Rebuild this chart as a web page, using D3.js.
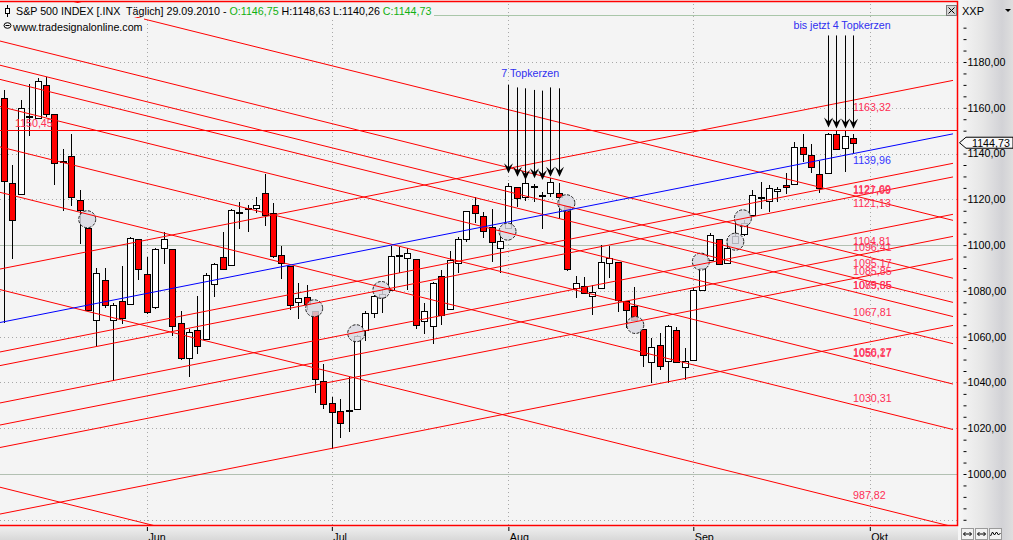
<!DOCTYPE html>
<html><head><meta charset="utf-8">
<script src="https://cdn.jsdelivr.net/npm/d3@7"></script>
<style>
html,body{margin:0;padding:0;background:#f4f4f4;overflow:hidden;}
svg{display:block;font-family:"Liberation Sans",Arial,sans-serif;}
</style></head><body>
<svg id="chart" width="1013" height="540"></svg>
<script>
// ---------------- DATA ----------------
const dates = ["06.05","07.05","10.05","11.05","12.05","13.05","14.05","17.05","18.05","19.05","20.05","21.05","24.05","25.05","26.05","27.05","28.05",
"01.06","02.06","03.06","04.06","07.06","08.06","09.06","10.06","11.06","14.06","15.06","16.06","17.06","18.06","21.06","22.06","23.06","24.06","25.06","28.06","29.06","30.06",
"01.07","02.07","06.07","07.07","08.07","09.07","12.07","13.07","14.07","15.07","16.07","19.07","20.07","21.07","22.07","23.07","26.07","27.07","28.07","29.07","30.07",
"02.08","03.08","04.08","05.08","06.08","09.08","10.08","11.08","12.08","13.08","16.08","17.08","18.08","19.08","20.08","23.08","24.08","25.08","26.08","27.08","30.08","31.08",
"01.09","02.09","03.09","07.09","08.09","09.09","10.09","13.09","14.09","15.09","16.09","17.09","20.09","21.09","22.09","23.09","24.09","27.09","28.09","29.09"];
const open = [1164.38,1127.04,1122.27,1156.39,1155.43,1170.04,1157.19,1136.52,1138.78,1119.57,1107.34,1067.26,1084.78,1067.42,1075.51,1074.27,1102.59,
1087.30,1073.01,1098.82,1098.43,1065.84,1050.81,1062.75,1058.77,1082.65,1095.00,1091.21,1114.02,1115.98,1116.16,1122.79,1113.90,1095.57,1090.93,1075.10,1077.50,1071.10,1040.56,
1031.10,1027.65,1028.09,1028.54,1062.92,1070.50,1077.23,1080.65,1095.61,1094.46,1093.85,1066.85,1064.53,1086.67,1072.14,1092.17,1102.89,1117.36,1112.84,1108.07,1098.44,
1107.53,1125.34,1121.06,1125.78,1122.07,1122.80,1122.92,1116.89,1081.48,1082.22,1077.49,1081.16,1092.08,1092.44,1075.63,1073.36,1063.20,1048.98,1056.28,1049.27,1062.90,1046.88,
1049.72,1080.66,1093.61,1102.60,1092.36,1101.15,1104.57,1113.38,1121.16,1119.43,1123.89,1126.39,1126.57,1142.82,1139.49,1131.10,1131.69,1148.64,1142.31,1146.75];
const high = [1167.58,1135.13,1163.19,1170.48,1172.87,1173.57,1157.19,1141.88,1148.66,1124.27,1107.34,1090.16,1089.95,1074.75,1090.75,1103.52,1102.59,
1094.77,1098.56,1105.67,1098.43,1071.36,1063.15,1077.74,1087.85,1092.25,1105.91,1115.59,1118.74,1117.72,1121.01,1131.23,1118.50,1099.64,1090.93,1083.56,1082.60,1071.10,1048.08,
1033.58,1032.95,1042.50,1060.89,1071.25,1078.16,1080.78,1099.46,1099.08,1098.66,1093.85,1074.70,1083.94,1088.96,1097.50,1103.73,1115.01,1120.95,1114.66,1115.90,1106.44,
1127.30,1125.44,1128.75,1126.56,1123.06,1129.24,1127.16,1116.89,1086.72,1086.25,1082.62,1100.14,1099.77,1092.44,1075.63,1081.58,1063.20,1059.38,1061.45,1065.21,1064.40,1055.14,
1081.30,1090.10,1105.10,1102.60,1103.26,1110.27,1110.88,1123.87,1127.36,1126.46,1125.44,1131.47,1144.86,1148.59,1144.38,1136.77,1148.90,1149.92,1150.00,1148.63];
const low = [1065.79,1094.15,1122.27,1147.71,1155.43,1156.14,1126.14,1114.96,1117.20,1100.66,1071.58,1055.90,1072.70,1040.78,1065.59,1074.27,1084.78,
1069.89,1072.03,1091.81,1060.50,1049.86,1042.17,1052.25,1058.77,1077.12,1089.03,1091.21,1107.13,1105.87,1113.93,1108.24,1094.18,1085.31,1071.60,1067.89,1071.45,1035.18,1028.33,
1010.91,1015.93,1018.35,1028.54,1058.24,1068.10,1070.45,1080.65,1087.68,1080.53,1063.32,1061.11,1056.88,1065.25,1072.14,1087.88,1101.30,1109.78,1103.11,1092.82,1088.01,
1107.53,1116.76,1119.46,1118.81,1107.17,1120.91,1111.58,1088.55,1076.69,1079.00,1069.49,1081.16,1085.76,1070.66,1063.91,1067.08,1046.68,1039.83,1045.40,1039.70,1048.79,1040.88,
1049.72,1080.39,1093.61,1091.15,1092.36,1101.15,1103.92,1113.38,1115.58,1114.63,1118.88,1122.43,1126.57,1136.22,1131.58,1122.79,1131.69,1142.00,1132.09,1140.26];
const close = [1128.15,1110.88,1159.73,1155.79,1171.67,1157.44,1135.68,1136.94,1120.80,1115.05,1071.59,1087.69,1073.65,1074.03,1067.95,1103.06,1089.41,
1070.71,1098.38,1102.83,1064.88,1050.47,1062.00,1055.69,1086.84,1091.60,1089.63,1115.23,1114.61,1116.04,1117.51,1113.20,1095.31,1092.04,1073.69,1076.76,1074.57,1041.24,1030.71,
1027.37,1022.58,1028.06,1060.27,1070.25,1077.96,1078.75,1095.34,1095.17,1096.48,1064.88,1071.25,1083.48,1069.59,1093.67,1102.66,1115.01,1113.84,1106.13,1101.53,1101.60,
1125.86,1120.46,1127.24,1125.81,1121.64,1127.79,1121.06,1089.47,1083.61,1079.25,1079.38,1092.54,1094.16,1075.63,1071.69,1067.36,1051.87,1055.33,1047.22,1064.59,1048.92,1049.33,
1080.29,1090.10,1104.51,1091.84,1098.87,1104.18,1109.55,1121.90,1121.10,1125.07,1124.66,1125.59,1142.71,1139.78,1134.28,1124.83,1148.67,1142.16,1147.70,1144.73];

const monthLabels = ["Jun","Jul","Aug","Sep","Okt"];
const monthTickIndex = [17, 39, 60, 82, 103];

// trend lines: value at the last bar (index 101)
const risingLineValues = [1163.32, 1127.09, 1121.13, 1104.81, 1095.17, 1085.35, 1056.27];
const fallingLineValues = [1121.69, 1096.41, 1085.85, 1079.65, 1067.81, 1050.17, 1030.31, 987.82, 901.47];
const blueLineValue = 1139.96;
const horizontalLineValue = 1150.45;
const risingSlope = 0.727;    // points per bar
const fallingSlope = -0.914;  // points per bar
const lineAnchorIndex = 101;
const lineEndIndex = 112.9;
const hLabelIndex = 1.3;

// marked crossings
const circleIndex = [9.9, 36.9, 41.9, 44.9, 59.9, 66.9, 75.1, 82.9, 87.0, 87.9];
const circleValue = [1111.3, 1072.4, 1061.5, 1080.4, 1105.9, 1118.3, 1065.1, 1092.8, 1101.5, 1111.7];

// arrows "7 Topkerzen"
const arrowIdx7 = [60, 61, 62, 63, 64, 65, 66];
const arrowTop7 = [1170.0, 1168.9, 1168.5, 1167.8, 1167.5, 1168.9, 1168.5];
const arrowTip7 = [1131.4, 1129.9, 1128.4, 1129.2, 1128.4, 1129.9, 1129.9];
// arrows "bis jetzt 4 Topkerzen"
const arrowIdx4 = [98, 99, 100, 101];
const arrowTop4 = [1191.6, 1191.6, 1191.6, 1191.6];
const arrowTip4 = [1151.4, 1151.0, 1151.0, 1150.8];

const annotations = [
  {text: "7 Topkerzen", idx: 62.6, value: 1173.4},
  {text: "bis jetzt 4 Topkerzen", idx: 99.7, value: 1194.4}
];

// ---------------- CHART ----------------
const W = 1013, H = 540, plotR = 958, plotB = 526;
const svg = d3.select("#chart");
const x = d3.scaleLinear().domain([0, 101]).range([4, 853]);
const y = d3.scaleLinear().domain([1000, 1180]).range([474, 62]);
const de = d3.formatLocale({decimal: ",", thousands: ".", grouping: [3], currency: ["", ""]});
const fmt = de.format(".2f");
const RED = "#ff0000", LBL = "#ff2d55", BLUE = "#0000ff", TXTBLUE = "#3030f0";

const defs = svg.append("defs");
defs.append("clipPath").attr("id", "plotclip").append("rect")
  .attr("x", 0).attr("y", 2).attr("width", plotR - 1).attr("height", plotB - 2);
const ag = defs.append("linearGradient").attr("id", "axisGrad").attr("x1", 0).attr("x2", 1).attr("y1", 0).attr("y2", 0);
[["0%", "#f6f6f6"], ["45%", "#e6e6e6"], ["80%", "#d2d2d6"], ["100%", "#dedede"]].forEach(s => ag.append("stop").attr("offset", s[0]).attr("stop-color", s[1]));
const bg = defs.append("linearGradient").attr("id", "bottomGrad").attr("x1", 0).attr("x2", 0).attr("y1", 0).attr("y2", 1);
[["0%", "#eeeeee"], ["100%", "#d8d8d8"]].forEach(s => bg.append("stop").attr("offset", s[0]).attr("stop-color", s[1]));

svg.append("rect").attr("width", W).attr("height", H).attr("fill", "#f4f4f4");
svg.append("rect").attr("x", plotR).attr("y", 0).attr("width", W - plotR).attr("height", H).attr("fill", "url(#axisGrad)");
svg.append("rect").attr("x", 0).attr("y", plotB + 1).attr("width", plotR).attr("height", H - plotB - 1).attr("fill", "url(#bottomGrad)");

const plot = svg.append("g").attr("clip-path", "url(#plotclip)");

// grid
const gridVals = d3.range(980, 1200, 20);
plot.append("g").selectAll("line").data(gridVals).join("line")
  .attr("x1", 0).attr("x2", plotR)
  .attr("y1", d => Math.round(y(d)) + 0.5).attr("y2", d => Math.round(y(d)) + 0.5)
  .attr("stroke", d => d % 100 === 0 ? "#b2c0b2" : "#a8a8a8")
  .attr("stroke-dasharray", d => d % 100 === 0 ? null : "1,3")
  .attr("shape-rendering", "crispEdges");
plot.append("g").selectAll("line").data(monthTickIndex).join("line")
  .attr("x1", d => Math.round(x(d)) + 0.5).attr("x2", d => Math.round(x(d)) + 0.5)
  .attr("y1", 0).attr("y2", plotB)
  .attr("stroke", "#a8a8a8").attr("stroke-dasharray", "1,3")
  .attr("shape-rendering", "crispEdges");

// candles
const idx = d3.range(close.length);
const cg = plot.append("g").attr("shape-rendering", "crispEdges");
cg.selectAll("line").data(idx).join("line")
  .attr("x1", i => Math.round(x(i)) + 0.5).attr("x2", i => Math.round(x(i)) + 0.5)
  .attr("y1", i => y(high[i])).attr("y2", i => y(low[i]))
  .attr("stroke", "#000");
cg.selectAll("rect").data(idx).join("rect")
  .attr("x", i => Math.round(x(i)) - 2.5).attr("width", 6)
  .attr("y", i => Math.round(y(Math.max(open[i], close[i]))) + 0.5)
  .attr("height", i => Math.max(0.5, Math.round(Math.abs(y(open[i]) - y(close[i])))))
  .attr("fill", i => close[i] >= open[i] ? "#ffffff" : RED)
  .attr("stroke", "#000");

// circles (on top of candles, slightly translucent)
plot.append("g").selectAll("circle").data(circleIndex).join("circle")
  .attr("cx", d => x(d)).attr("cy", (d, i) => y(circleValue[i])).attr("r", 8.5)
  .attr("fill", "#d8d8e0").attr("fill-opacity", 0.82)
  .attr("stroke", "#222").attr("stroke-width", 1).attr("stroke-dasharray", "3,1.5");

// trend lines
const x0Idx = x.invert(0);
function seg(v, slope) {
  return [[x0Idx, v + slope * (x0Idx - lineAnchorIndex)], [lineEndIndex, v + slope * (lineEndIndex - lineAnchorIndex)]];
}
const lineGen = d3.line().x(d => x(d[0])).y(d => y(d[1]));
const tl = plot.append("g").attr("fill", "none");
tl.selectAll("path.up").data(risingLineValues).join("path").attr("class", "up")
  .attr("d", v => lineGen(seg(v, risingSlope))).attr("stroke", RED).attr("stroke-width", 1);
tl.selectAll("path.dn").data(fallingLineValues).join("path").attr("class", "dn")
  .attr("d", v => lineGen(seg(v, fallingSlope))).attr("stroke", RED).attr("stroke-width", 1);
tl.append("line").attr("x1", 0).attr("x2", plotR)
  .attr("y1", Math.round(y(horizontalLineValue)) + 0.5).attr("y2", Math.round(y(horizontalLineValue)) + 0.5)
  .attr("stroke", RED).attr("stroke-width", 1);
tl.append("path").attr("d", lineGen(seg(blueLineValue, risingSlope)))
  .attr("stroke", BLUE).attr("stroke-width", 1);

// line labels
const lab = plot.append("g").attr("font-size", "10.7px").attr("dominant-baseline", "central");
lab.selectAll("text.up").data(risingLineValues).join("text").attr("class", "up")
  .attr("x", x(lineAnchorIndex)).attr("y", v => y(v) + 6.5).attr("fill", LBL).text(v => fmt(v));
lab.selectAll("text.dn").data(fallingLineValues).join("text").attr("class", "dn")
  .attr("x", x(lineAnchorIndex)).attr("y", v => y(v) - 6.5).attr("fill", LBL).text(v => fmt(v));
lab.append("text").attr("x", x(lineAnchorIndex)).attr("y", y(blueLineValue) + 6.5).attr("fill", "#3434ff").text(fmt(blueLineValue));
lab.append("text").attr("x", x(hLabelIndex)).attr("y", y(horizontalLineValue) - 6.5).attr("fill", LBL).text(fmt(horizontalLineValue));

// arrows
function drawArrows(idxs, tops, tips) {
  const g = plot.append("g");
  idxs.forEach((d, i) => {
    const cx = Math.round(x(d)) + 0.5, t = y(tops[i]), p = y(tips[i]);
    g.append("line").attr("x1", cx).attr("x2", cx).attr("y1", t).attr("y2", p - 3).attr("stroke", "#000");
    g.append("path").attr("d", `M${cx},${p} L${cx - 4.5},${p - 10} L${cx},${p - 6} L${cx + 4.5},${p - 10} Z`).attr("fill", "#000");
  });
}
drawArrows(arrowIdx7, arrowTop7, arrowTip7);
drawArrows(arrowIdx4, arrowTop4, arrowTip4);
plot.append("g").selectAll("text").data(annotations).join("text")
  .attr("x", d => x(d.idx)).attr("y", d => y(d.value)).attr("text-anchor", "middle")
  .attr("font-size", "10.7px").attr("fill", TXTBLUE).text(d => d.text);

// header
const last = close.length - 1;
svg.append("line").attr("x1", 434).attr("x2", plotR).attr("y1", 15.5).attr("y2", 15.5).attr("stroke", "#a9c6a9");
svg.append("rect").attr("x", 0).attr("y", 3).attr("width", 434).attr("height", 14).attr("fill", "#f4f4f4");
svg.append("rect").attr("x", 0).attr("y", 18).attr("width", 144).attr("height", 15).attr("fill", "#f4f4f4");
svg.append("line").attr("x1", 7.5).attr("x2", 7.5).attr("y1", 5).attr("y2", 17).attr("stroke", "#000");
svg.append("rect").attr("x", 5.5).attr("y", 8.5).attr("width", 4).attr("height", 5).attr("fill", "#fff").attr("stroke", "#000");
const ht = svg.append("text").attr("x", 16).attr("y", 15).attr("font-size", "10.7px").style("white-space", "pre");
ht.append("tspan").attr("fill", "#000").text("S&P 500 INDEX [.INX  Täglich] 29.09.2010 - ");
ht.append("tspan").attr("fill", "#10b010").text("O:" + fmt(open[last]));
ht.append("tspan").attr("fill", "#000").text(" H:" + fmt(high[last]) + " L:" + fmt(low[last]) + " ");
ht.append("tspan").attr("fill", "#10b010").text("C:" + fmt(close[last]));
svg.append("ellipse").attr("cx", 7.5).attr("cy", 25.5).attr("rx", 3.5).attr("ry", 2.8).attr("fill", "none").attr("stroke", "#000");
svg.append("line").attr("x1", 5.5).attr("x2", 9.5).attr("y1", 25.5).attr("y2", 25.5).attr("stroke", "#000");
svg.append("text").attr("x", 13).attr("y", 31).attr("font-size", "10.7px").attr("fill", "#000").text("www.tradesignalonline.com");

// frame
svg.append("path").attr("d", `M0,1.5 H${plotR - 0.5} V${plotB - 0.5} H0`).attr("fill", "none").attr("stroke", RED).attr("stroke-width", 1.5);
// close button
svg.append("rect").attr("x", 946.5).attr("y", 5.5).attr("width", 10).attr("height", 10).attr("fill", "#d6d6d6").attr("stroke", "#7a7a7a");
svg.append("path").attr("d", "M948.5,7.5 L954.5,13.5 M954.5,7.5 L948.5,13.5").attr("stroke", "#000");

// right axis
const yAxis = d3.axisRight(y).tickValues(d3.range(980, 1196, 5)).tickSize(3).tickPadding(1)
  .tickFormat(d => (d % 20 === 0 && d >= 1000 && d <= 1180) ? fmt(d) : "");
const ya = svg.append("g").attr("transform", "translate(963.5,0)").call(yAxis);
ya.select(".domain").remove();
ya.selectAll("text").attr("font-size", "10.7px").attr("font-family", "Liberation Sans, Arial, sans-serif").attr("fill", "#000");
ya.selectAll("line").attr("stroke", "#000");
svg.append("text").attr("x", 962).attr("y", 15).attr("font-size", "11px").attr("fill", "#000").text("XXP");
svg.append("path").attr("d", "M1005,9 L1011,9 L1008,12 Z").attr("fill", "#000");

// current price marker
const py = y(close[last]);
svg.append("path").attr("d", `M959.5,${py} L966,${py - 5.5} L1013,${py - 5.5} L1013,${py + 5.5} L966,${py + 5.5} Z`)
  .attr("fill", "#f8f8f8").attr("stroke", "#000");
svg.append("text").attr("x", 972).attr("y", py).attr("dominant-baseline", "central").attr("font-size", "10.7px").attr("fill", "#000").text(fmt(close[last]));

// bottom axis
const xAxis = d3.axisBottom(x).tickValues(monthTickIndex).tickSize(4).tickPadding(2)
  .tickFormat((d, i) => monthLabels[i]);
const xa = svg.append("g").attr("transform", `translate(0,${plotB + 1})`).call(xAxis);
xa.select(".domain").remove();
xa.selectAll("text").attr("text-anchor", "start").attr("dx", "1").attr("font-size", "10.7px")
  .attr("font-family", "Liberation Sans, Arial, sans-serif").attr("fill", "#000");
xa.selectAll("line").attr("stroke", "#000");

// small buttons bottom-right
[961.5, 975.5, 989.5].forEach((bx, k) => {
  svg.append("rect").attr("x", bx).attr("y", 528.5).attr("width", 12).attr("height", 11).attr("fill", "#f2f2f2").attr("stroke", "#9a9a9a");
  const cy = 534, c = bx + 6;
  if (k < 2) {
    svg.append("path").attr("d", `M${c - 4},${cy} H${c + 4} M${c - 4},${cy} l2,-2 M${c - 4},${cy} l2,2 M${c + 4},${cy} l-2,-2 M${c + 4},${cy} l-2,2`)
      .attr("stroke", "#000").attr("fill", "none");
  } else {
    svg.append("path").attr("d", `M${c - 5},${cy + 2} L${c - 3},${cy - 2} L${c - 1},${cy + 1} L${c + 1},${cy - 2} L${c + 3},${cy + 1} L${c + 5},${cy - 1}`)
      .attr("stroke", "#000").attr("fill", "none");
  }
});
</script>
</body></html>
